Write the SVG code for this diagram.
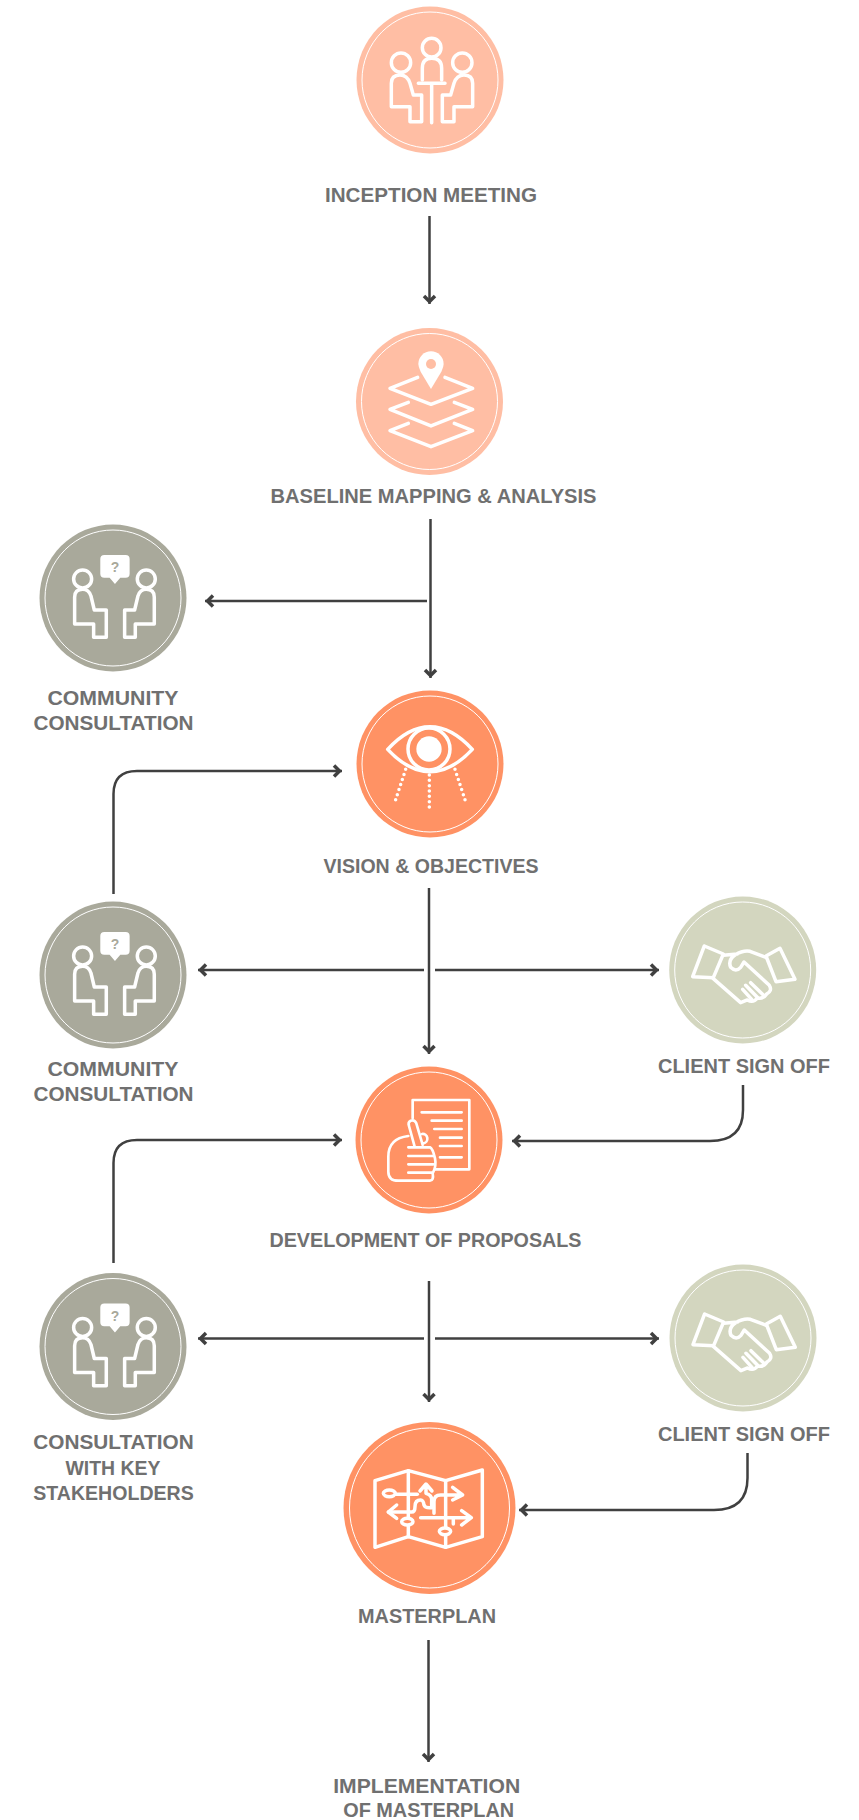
<svg xmlns="http://www.w3.org/2000/svg" width="859" height="1820" viewBox="0 0 859 1820">
<style>
.bg{stroke:none}
.ring{fill:none;stroke:#fff;stroke-width:1}
.ic{fill:none;stroke:#fff;stroke-width:10.500;stroke-linejoin:round;stroke-linecap:round}
.lb{font-family:"Liberation Sans",Arial,sans-serif;font-weight:700;font-size:19.500px;fill:#707070;text-anchor:middle}
.cn{fill:none;stroke:#404040;stroke-width:2.500;marker-end:url(#ah)}
.q{font-family:"Liberation Sans",sans-serif;font-weight:700;font-size:42px;fill:#a9a99b;stroke:none;text-anchor:middle}
</style>
<defs>
<marker id="ah" markerUnits="userSpaceOnUse" markerWidth="20" markerHeight="20" refX="14.500" refY="10" orient="auto">
<path d="M6.500 4.500L12 10L6.500 15.500" fill="none" stroke="#404040" stroke-width="3.500"/>
</marker>
<g id="people">
<circle cx="187" cy="207" r="27"/><circle cx="378" cy="207" r="27"/>
<path d="M163 342V262Q163 238 187 238Q205 238 212 258L222 300H258V382H220V342Z"/>
<path d="M402 342V262Q402 238 378 238Q360 238 353 258L343 300H313V382H345V342Z"/>
<path d="M252 135H316Q328 135 328 147V191Q328 203 316 203H300L284 222L268 203H252Q240 203 240 191V147Q240 135 252 135Z" fill="#fff" stroke="none"/>
</g>
<g id="shake">
<path d="M163 198L220 222L190 293L128 290Z"/>
<path d="M390 205L435 298L378 305L348 228Z"/>
<path d="M220 226L262 222M348 232L300 214Q280 210 255 225Q233 240 242 262Q258 278 272 262L282 246L358 316Q368 332 350 342Q340 358 322 354Q310 370 292 360L272 368L190 296"/>
<path d="M278 328L305 358M287 316L322 352M302 308L340 345"/>
</g>
</defs>
<g id="connectors">
<path class="cn" d="M429.500 216V304"/>
<path class="cn" d="M430.500 519V678"/>
<path class="cn" d="M427 601H205"/>
<path class="cn" d="M113.500 894V794Q113.500 771 137 771H342"/>
<path class="cn" d="M429 888V1054"/>
<path class="cn" d="M424 970H198"/>
<path class="cn" d="M435 970H659"/>
<path class="cn" d="M743 1085V1110Q743 1141 710 1141H512"/>
<path class="cn" d="M113.500 1263V1163Q113.500 1140 137 1140H342"/>
<path class="cn" d="M429 1281V1402"/>
<path class="cn" d="M424 1338.500H198"/>
<path class="cn" d="M435 1338.500H659"/>
<path class="cn" d="M747.500 1453V1478Q747.500 1510 714 1510H519"/>
<path class="cn" d="M428.500 1640V1762"/>
</g>
<g id="inception">
<circle class="bg" cx="430" cy="80" r="73.500" fill="#ffbea4"/><circle class="ring" cx="430" cy="80" r="68"/>
<g class="ic" transform="translate(330 0) scale(.3333)">
<circle cx="213" cy="188" r="29"/><circle cx="305" cy="143" r="28"/><circle cx="397" cy="188" r="29"/>
<path d="M184 320V250Q184 225 210 225Q232 225 240 250L250 285H275V365H240V320Z"/>
<path d="M277 240V205Q277 175 305 175Q335 175 335 205V240"/>
<path d="M265 250H345M305 250V368"/>
<path d="M428 320V250Q428 225 402 225Q380 225 372 250L362 285H337V365H372V320Z"/>
</g>
<text class="lb" x="431" y="202" textLength="212" lengthAdjust="spacingAndGlyphs">INCEPTION MEETING</text>
</g>
<g id="baseline">
<circle class="bg" cx="429.500" cy="401.500" r="73.500" fill="#ffbea4"/><circle class="ring" cx="429.500" cy="401.500" r="68"/>
<g class="ic" transform="translate(330 320) scale(.3333)">
<path d="M303 207L272 155Q265 140 265 132A38 38 0 0 1 341 132Q341 140 334 155Z" fill="#fff" stroke="none"/>
<circle cx="303" cy="132" r="15" fill="#ffbea4" stroke="none"/>
<path d="M263 172L180 205L303 253L428 205L345 172"/>
<path d="M235 247L180 268L303 318L428 268L373 247"/>
<path d="M235 310L180 332L303 380L428 332L373 310"/>
</g>
<text class="lb" x="433.500" y="503" textLength="326" lengthAdjust="spacingAndGlyphs">BASELINE MAPPING &amp; ANALYSIS</text>
</g>
<g id="community1">
<circle class="bg" cx="113" cy="598" r="73.500" fill="#a9a99b"/><circle class="ring" cx="113" cy="598" r="68"/>
<g class="ic" transform="translate(20.300 510) scale(.3333)"><use href="#people"/><text class="q" x="284" y="187">?</text></g>
<text class="lb" x="113" y="705" textLength="131" lengthAdjust="spacingAndGlyphs">COMMUNITY</text><text class="lb" x="113.500" y="729.500" textLength="160" lengthAdjust="spacingAndGlyphs">CONSULTATION</text>
</g>
<g id="vision">
<circle class="bg" cx="430" cy="764" r="73.500" fill="#ff9264"/><circle class="ring" cx="430" cy="764" r="68"/>
<g class="ic" transform="translate(340 680) scale(.3333)">
<path d="M143 208Q205 140 270 140Q335 140 397 208Q335 275 270 275Q205 275 143 208Z"/>
<circle cx="267" cy="207" r="63"/><circle cx="267" cy="207" r="38" fill="#fff" stroke="none"/>
<path d="M197 268L165 365M268 285V388M345 268L377 365" stroke-dasharray="0 16"/>
</g>
<text class="lb" x="431" y="873" textLength="215" lengthAdjust="spacingAndGlyphs">VISION &amp; OBJECTIVES</text>
</g>
<g id="community2">
<circle class="bg" cx="113" cy="975" r="73.500" fill="#a9a99b"/><circle class="ring" cx="113" cy="975" r="68"/>
<g class="ic" transform="translate(20.300 887) scale(.3333)"><use href="#people"/><text class="q" x="284" y="187">?</text></g>
<text class="lb" x="113" y="1076" textLength="131" lengthAdjust="spacingAndGlyphs">COMMUNITY</text><text class="lb" x="113.500" y="1101" textLength="160" lengthAdjust="spacingAndGlyphs">CONSULTATION</text>
</g>
<g id="signoff1">
<circle class="bg" cx="742.700" cy="970" r="73.500" fill="#d3d6bf"/><circle class="ring" cx="742.700" cy="970" r="68"/>
<g class="ic" transform="translate(650 880) scale(.3333)"><use href="#shake"/></g>
<text class="lb" x="744" y="1073" textLength="172" lengthAdjust="spacingAndGlyphs">CLIENT SIGN OFF</text>
</g>
<g id="proposals">
<circle class="bg" cx="429" cy="1140" r="73.500" fill="#ff9264"/><circle class="ring" cx="429" cy="1140" r="68"/>
<g class="ic" transform="translate(340 1050) scale(.3333)" style="stroke-width:8">
<path d="M218 205V150H388V358H285"/>
<path d="M245 187H365M275 212H365M283 237H365M300 263H365M300 288H365M300 322H365"/>
<path d="M248 285L229 220Q224 208 212 212Q203 217 207 228L224 290M246 252A14 14 0 0 1 250 280"/>
<path d="M205 258Q145 265 145 320V365Q145 392 175 392H270Q282 392 278 370Q290 350 285 325Q278 295 270 292H205M205 318H278M205 343H280M205 368H278"/>
</g>
<text class="lb" x="425.500" y="1247" textLength="312" lengthAdjust="spacingAndGlyphs">DEVELOPMENT OF PROPOSALS</text>
</g>
<g id="community3">
<circle class="bg" cx="113" cy="1346.500" r="73.500" fill="#a9a99b"/><circle class="ring" cx="113" cy="1346.500" r="68"/>
<g class="ic" transform="translate(20.300 1258.500) scale(.3333)"><use href="#people"/><text class="q" x="284" y="187">?</text></g>
<text class="lb" x="113.500" y="1449" textLength="160.500" lengthAdjust="spacingAndGlyphs">CONSULTATION</text><text class="lb" x="113" y="1475" textLength="95" lengthAdjust="spacingAndGlyphs">WITH KEY</text><text class="lb" x="113.500" y="1500" textLength="160.500" lengthAdjust="spacingAndGlyphs">STAKEHOLDERS</text>
</g>
<g id="signoff2">
<circle class="bg" cx="743" cy="1338" r="73.500" fill="#d3d6bf"/><circle class="ring" cx="743" cy="1338" r="68"/>
<g class="ic" transform="translate(650.300 1248) scale(.3333)"><use href="#shake"/></g>
<text class="lb" x="744" y="1441" textLength="172" lengthAdjust="spacingAndGlyphs">CLIENT SIGN OFF</text>
</g>
<g id="masterplan">
<circle class="bg" cx="429.500" cy="1508" r="86" fill="#ff9264"/><circle class="ring" cx="429.500" cy="1508" r="80"/>
<g class="ic" transform="translate(330 1410) scale(.3333)">
<path d="M135 212L235 182L347 212L457 180V380L347 412L235 380L135 412Z"/>
<path d="M235 182V322M235 348V380M347 212V352M347 376V412"/>
<ellipse cx="178" cy="250" rx="18" ry="10"/><ellipse cx="232" cy="335" rx="17" ry="10"/><ellipse cx="345" cy="364" rx="17" ry="10"/>
<path d="M196 253H262"/>
<path d="M175 306H245Q255 306 255 290Q255 270 272 270Q280 270 282 285Q285 295 305 293V268Q305 255 288 250V225M270 243L288 222L306 243"/>
<path d="M200 285L175 306L200 325"/>
<path d="M312 310V275Q312 255 332 255H395M368 232L398 255L368 270"/>
<path d="M272 323H422M395 302L424 323L395 345M370 323V342"/>
</g>
<text class="lb" x="427" y="1623" textLength="138" lengthAdjust="spacingAndGlyphs">MASTERPLAN</text>
</g>
<g id="implementation">
<text class="lb" x="426.700" y="1792.500" textLength="187" lengthAdjust="spacingAndGlyphs">IMPLEMENTATION</text><text class="lb" x="428.700" y="1816.500" textLength="171" lengthAdjust="spacingAndGlyphs">OF MASTERPLAN</text>
</g>
</svg>
